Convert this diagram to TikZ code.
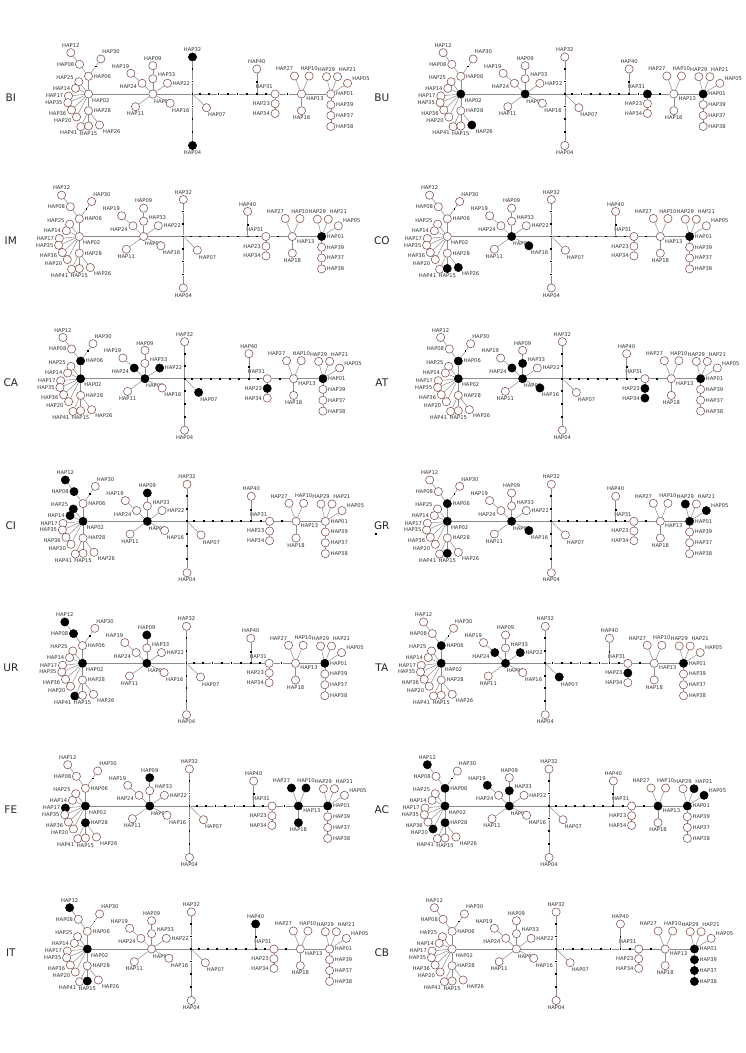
\documentclass[tikz,border=0pt]{standalone}
\usepackage{fontspec}
\setmainfont{DejaVu Sans}
\usepackage{xcolor}
\usetikzlibrary{positioning}

\definecolor{ringc}{HTML}{7F4F4F}
\definecolor{edgec}{HTML}{8C8C8C}

%% haplotypes: name/x/y/label angle, relative to HAP02
\newcommand{\hapnodes}{HAP02/0/0/-50, HAP06/0/-17.7/0, HAP08/-9/-29.7/180, HAP12/-17.7/-41.3/90,
  HAP30/12.3/-35/80, HAP25/-9.7/-12.3/165, HAP14/-13/-5.7/180, HAP17/-20/2/180,
  HAP35/-20.7/8.7/180, HAP36/-17/16/185, HAP20/-12/23/195, HAP28/0/16.7/0,
  HAP41/-7.7/32.7/-125, HAP15/0/32/-90, HAP26/11/31/-50, HAP03/64.3/0/-85,
  HAP19/42.3/-20.7/100, HAP24/53.6/-10.7/190, HAP09/64.3/-28.3/90, HAP33/64.3/-15.3/10,
  HAP22/79/-10.7/0, HAP11/47/12.7/-90, HAP16/81.6/9.3/-75, HAP32/104/-37/90,
  HAP04/104/51.5/-90, HAP07/118/13.7/-80, HAP40/168.3/-25/90, HAP31/186.6/0/110,
  HAP23/186.6/9.7/180, HAP34/186.6/19.4/180, HAP13/213/0/-25, HAP27/206/-18/95,
  HAP10/220.6/-18/90, HAP18/213/16.7/-90, HAP01/242.3/0/0, HAP29/238/-17.3/90,
  HAP21/249/-17.3/85, HAP05/259/-10.7/25, HAP39/242.3/10.7/0, HAP37/242.3/21.5/0,
  HAP38/242.3/32.4/0}
%% mutation steps
\newcommand{\hapdots}{d30/7.2/-27.6, hub/104/0, v1/104/-12.5, v2/104/-25, v3/104/12.5,
  v4/104/25, v5/104/38, h1/111.3/0, h2/120.6/0, h3/130/0, h4/139.3/0, h5/149/0,
  h6/158.3/0, j40/168.3/0, d40/168.3/-11.7, h7/177.6/0, d13/199/0}
%% links
\newcommand{\hapedges}{HAP12/HAP08, HAP08/HAP06, HAP06/d30, d30/HAP30, HAP06/HAP02,
  HAP02/HAP25, HAP02/HAP14, HAP02/HAP17, HAP02/HAP35, HAP02/HAP36, HAP02/HAP20,
  HAP02/HAP28, HAP28/HAP41, HAP28/HAP15, HAP28/HAP26, HAP02/HAP03, HAP03/HAP24,
  HAP24/HAP19, HAP03/HAP33, HAP33/HAP09, HAP03/HAP22, HAP03/HAP11, HAP03/HAP16,
  HAP03/hub, hub/v1, v1/v2, v2/HAP32, hub/v3, v3/v4, v4/v5, v5/HAP04, hub/HAP07,
  hub/h1, h1/h2, h2/h3, h3/h4, h4/h5, h5/h6, h6/j40, j40/d40, d40/HAP40, j40/h7,
  h7/HAP31, HAP31/HAP23, HAP23/HAP34, HAP31/d13, d13/HAP13, HAP13/HAP27, HAP13/HAP10,
  HAP13/HAP18, HAP13/HAP01, HAP01/HAP29, HAP01/HAP21, HAP01/HAP05, HAP01/HAP39,
  HAP39/HAP37, HAP37/HAP38}

%% #1 site, #2 #3 position of HAP02, #4 black haplotypes, #5 x of site label
\newcommand{\hapnet}[5]{%
  \begin{scope}[shift={(#2,#3)}, mkblack/.style={##1/.style={blk}}, mkblack/.list={#4}]
    \foreach \h/\x/\y/\ang in \hapnodes
      \node[hap, \h/.try, label={[lab]\ang:\h}] (#1\h) at (\x,\y) {};
    \foreach \m/\x/\y in \hapdots
      \node[mstep] (#1\m) at (\x,\y) {};
    \foreach \p/\q in \hapedges
      \draw[edge] (#1\p) -- (#1\q);
  \end{scope}
  \node[panel] (#1lab) at (#5,{#3+4}) {#1};}

\begin{document}
\begin{tikzpicture}[
  x=1pt, y=-1pt,
  hap/.style={circle, draw=ringc, fill=white, line width=0.55pt, minimum size=8.2pt, inner sep=0pt},
  blk/.style={fill=black, draw=black},
  mstep/.style={rectangle, fill=black, inner sep=0pt, minimum size=1.8pt},
  edge/.style={draw=edgec, line width=0.5pt},
  lab/.style={font=\fontsize{5.2}{6}\selectfont, text=black!80, inner sep=0.7pt},
  panel/.style={font=\fontsize{10.5}{12}\selectfont, text=black!85}
]
\path[fill=white] (0,0) rectangle (745,1053);

\hapnet{BI}{87.7}{94}{HAP32,HAP04}{10}
\hapnet{BU}{460}{94}{HAP02,HAP03,HAP26,HAP31,HAP01}{381}
\hapnet{IM}{78.5}{236.5}{HAP01}{10}
\hapnet{CO}{446.5}{236.5}{HAP03,HAP16,HAP15,HAP26,HAP01}{381}
\hapnet{CA}{79.8}{378.7}{HAP06,HAP02,HAP24,HAP03,HAP22,HAP07,HAP23,HAP01}{10}
\hapnet{AT}{457.5}{378.7}{HAP06,HAP02,HAP24,HAP33,HAP03,HAP16,HAP23,HAP34,HAP01}{381}
\hapnet{CI}{82.2}{521.3}{HAP12,HAP08,HAP25,HAP14,HAP02,HAP09,HAP03}{10}
\hapnet{GR}{446.5}{521.3}{HAP06,HAP02,HAP15,HAP03,HAP16,HAP29,HAP05,HAP01}{381}
\hapnet{UR}{81.7}{663.3}{HAP12,HAP08,HAP02,HAP41,HAP09,HAP03,HAP01}{10}
\hapnet{TA}{440.4}{663.3}{HAP06,HAP02,HAP24,HAP03,HAP22,HAP07,HAP23,HAP01}{381}
\hapnet{FE}{84.6}{806}{HAP17,HAP02,HAP28,HAP09,HAP03,HAP27,HAP10,HAP13,HAP18,HAP01}{10}
\hapnet{AC}{444.2}{806}{HAP12,HAP06,HAP02,HAP20,HAP28,HAP19,HAP33,HAP03,HAP21,HAP05,HAP13,HAP01}{381}
\hapnet{IT}{86.5}{949}{HAP12,HAP02,HAP15,HAP40}{10}
\hapnet{CB}{451.3}{949}{HAP01,HAP39,HAP37,HAP38}{381}

%% stray mark under GR
\node[mstep, minimum size=1.5pt] (GRmark) at (375,534) {};

\end{tikzpicture}
\end{document}
